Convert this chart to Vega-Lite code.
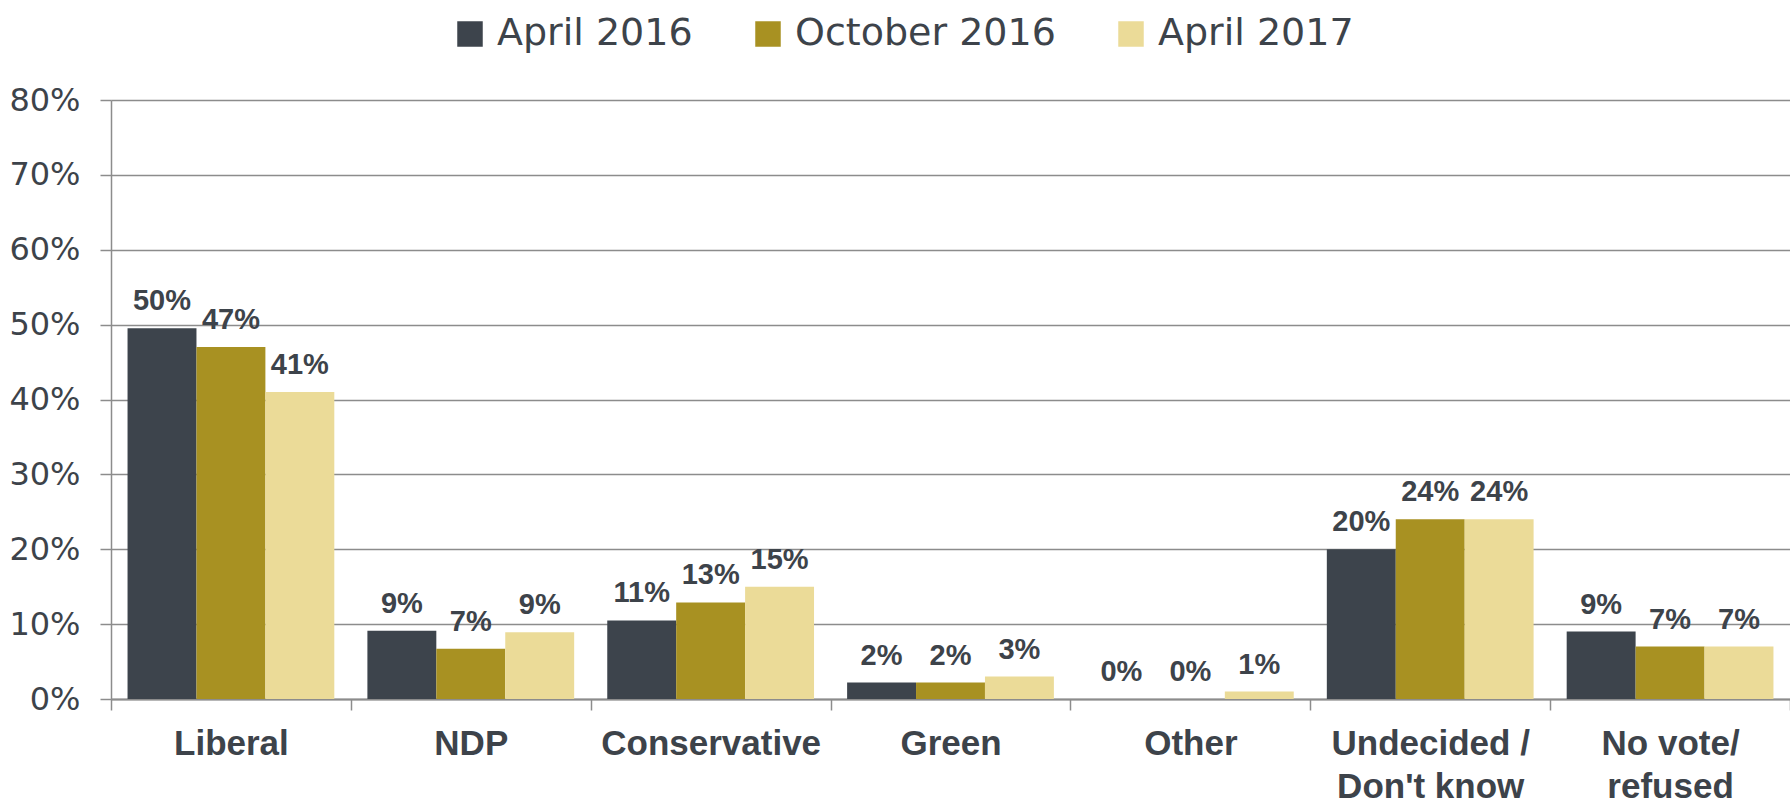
{
  "$schema": "https://vega.github.io/schema/vega-lite/v6.json",
  "width": 1679,
  "height": 599,
  "autosize": {"type": "none"},
  "padding": {"left": 111, "top": 100, "right": 0, "bottom": 110},
  "background": "white",
  "config": {"view": {"stroke": null}},
  "data": {"values": [
    {"category": "Liberal", "period": "April 2016", "value": 0.495},
    {"category": "Liberal", "period": "October 2016", "value": 0.47},
    {"category": "Liberal", "period": "April 2017", "value": 0.41},
    {"category": "NDP", "period": "April 2016", "value": 0.091},
    {"category": "NDP", "period": "October 2016", "value": 0.067},
    {"category": "NDP", "period": "April 2017", "value": 0.089},
    {"category": "Conservative", "period": "April 2016", "value": 0.105},
    {"category": "Conservative", "period": "October 2016", "value": 0.129},
    {"category": "Conservative", "period": "April 2017", "value": 0.15},
    {"category": "Green", "period": "April 2016", "value": 0.022},
    {"category": "Green", "period": "October 2016", "value": 0.022},
    {"category": "Green", "period": "April 2017", "value": 0.03},
    {"category": "Other", "period": "April 2016", "value": 0.0},
    {"category": "Other", "period": "October 2016", "value": 0.0},
    {"category": "Other", "period": "April 2017", "value": 0.01},
    {"category": "Undecided / \nDon't know", "period": "April 2016", "value": 0.20},
    {"category": "Undecided / \nDon't know", "period": "October 2016", "value": 0.24},
    {"category": "Undecided / \nDon't know", "period": "April 2017", "value": 0.24},
    {"category": "No vote/\nrefused", "period": "April 2016", "value": 0.09},
    {"category": "No vote/\nrefused", "period": "October 2016", "value": 0.07},
    {"category": "No vote/\nrefused", "period": "April 2017", "value": 0.07}
  ]},
  "encoding": {
    "x": {
      "field": "category", "type": "nominal", "sort": null,
      "scale": {"paddingInner": 0, "paddingOuter": 0},
      "axis": {
        "title": null, "labelAngle": 0, "labelLimit": 0,
        "labelExpr": "split(datum.label, '\\n')",
        "labelFont": "Liberation Sans", "labelFontWeight": "bold", "labelFontSize": 35,
        "labelColor": "#3d434a", "labelLineHeight": 43, "labelBaseline": "top",
        "labelPadding": 16, "tickBand": "extent", "tickSize": 11, "tickColor": "#8c8c8c",
        "tickWidth": 1.5, "domainColor": "#8c8c8c", "domainWidth": 2, "grid": false
      }
    },
    "xOffset": {"field": "period", "type": "nominal", "sort": ["April 2016", "October 2016", "April 2017"], "scale": {"paddingInner": 0, "paddingOuter": 0.24}},
    "y": {
      "field": "value", "type": "quantitative",
      "scale": {"domain": [0, 0.8], "nice": false},
      "axis": {
        "title": null, "values": [0, 0.1, 0.2, 0.3, 0.4, 0.5, 0.6, 0.7, 0.8], "format": ".0%",
        "labelFont": "DejaVu Sans", "labelFontSize": 32, "labelColor": "#3d434a",
        "labelPadding": 20, "tickSize": 11, "tickColor": "#8c8c8c", "tickWidth": 1.5,
        "grid": true, "gridColor": "#8c8c8c", "gridWidth": 1.5,
        "domainColor": "#8c8c8c", "domainWidth": 1.5
      }
    }
  },
  "layer": [
    {
      "mark": {"type": "bar"},
      "encoding": {
        "color": {
          "field": "period", "type": "nominal",
          "sort": ["April 2016", "October 2016", "April 2017"],
          "scale": {"domain": ["April 2016", "October 2016", "April 2017"], "range": ["#3d444c", "#a89122", "#ebdb98"]},
          "legend": {
            "title": null, "orient": "none", "direction": "horizontal",
            "legendX": 340, "legendY": -85,
            "symbolType": "square", "symbolSize": 650, "symbolStrokeWidth": 0, "symbolOpacity": 1,
            "labelFont": "DejaVu Sans", "labelFontSize": 38, "labelColor": "#3d434a", "labelLimit": 0,
            "labelOffset": 8, "columnPadding": 56
          }
        }
      }
    },
    {
      "mark": {"type": "text", "baseline": "alphabetic", "dy": -18, "font": "Liberation Sans", "fontWeight": "bold", "fontSize": 29, "color": "#3d434a"},
      "encoding": {
        "text": {"field": "value", "type": "quantitative", "format": ".0%"}
      }
    }
  ]
}
